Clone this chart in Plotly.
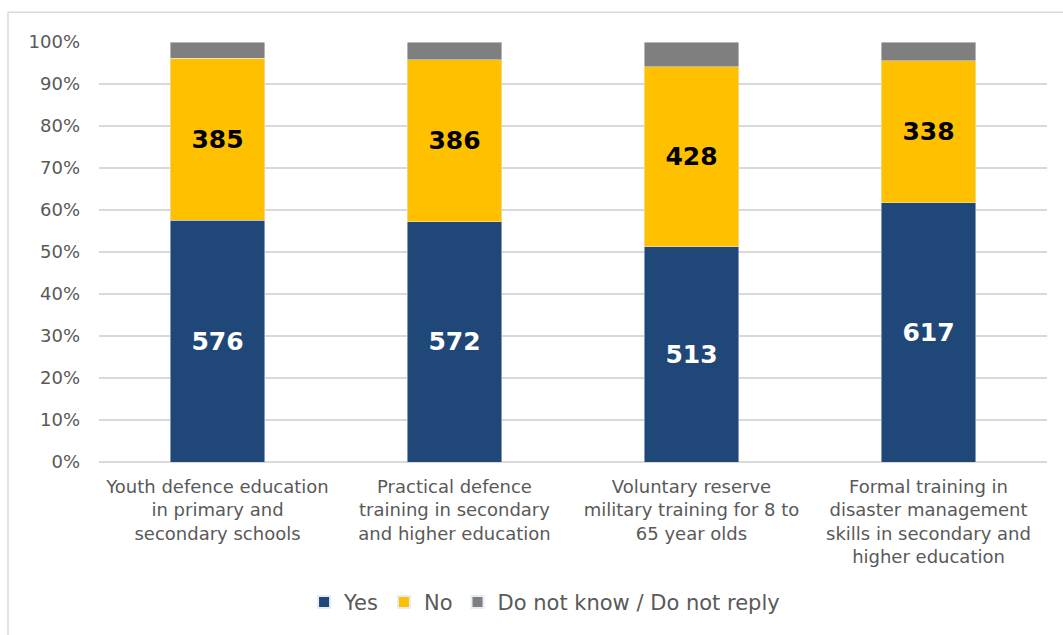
import plotly.graph_objects as go

# Survey responses per measure (counts out of 1000 respondents)
categories = [
    "Youth defence education<br>in primary and<br>secondary schools",
    "Practical defence<br>training in secondary<br>and higher education",
    "Voluntary reserve<br>military training for 8 to<br>65 year olds",
    "Formal training in<br>disaster management<br>skills in secondary and<br>higher education",
]
yes_counts = [576, 572, 513, 617]
no_counts = [385, 386, 428, 338]
dk_counts = [39, 42, 59, 45]

FONT = "DejaVu Sans, Verdana, sans-serif"
GREY_TXT = "#595959"
GRID = "#d9d9d9"

fig = go.Figure()
fig.add_trace(go.Bar(
    name="Yes", x=categories, y=yes_counts, marker_color="#1f4778",
    text=[str(v) for v in yes_counts], textposition="inside",
    insidetextanchor="middle",
    textfont=dict(family=FONT, size=25, color="white", weight="bold"),
))
fig.add_trace(go.Bar(
    name="No", x=categories, y=no_counts, marker_color="#ffc000",
    text=[str(v) for v in no_counts], textposition="inside",
    insidetextanchor="middle",
    textfont=dict(family=FONT, size=25, color="black", weight="bold"),
))
fig.add_trace(go.Bar(
    name="Do not know / Do not reply", x=categories, y=dk_counts,
    marker_color="#7f7f7f",
))

# Outer chart frame (top and left edges)
px_x = lambda p: (p - 99) / 948
px_y = lambda p: (464 - p) / 422
frame = dict(type="line", xref="paper", yref="paper",
             line=dict(color=GRID, width=1.5), layer="below")
fig.add_shape(x0=px_x(8), x1=px_x(1070), y0=px_y(12), y1=px_y(12), **frame)
fig.add_shape(x0=px_x(8), x1=px_x(8), y0=px_y(12), y1=px_y(640), **frame)

fig.update_layout(
    width=1063, height=635,
    margin=dict(l=99, r=16, t=42, b=171),
    barmode="stack", barnorm="percent", bargap=0.603,
    plot_bgcolor="white", paper_bgcolor="white",
    font=dict(family=FONT, size=18, color=GREY_TXT),
    uniformtext=dict(minsize=10, mode="show"),
    showlegend=True,
    legend=dict(orientation="h", x=0.47, xanchor="center",
                y=px_y(605), yanchor="middle",
                font=dict(family=FONT, size=21, color=GREY_TXT),
                itemsizing="constant", traceorder="normal",
                itemwidth=30),
    xaxis=dict(showgrid=False, showline=False, ticks="",
               ticklabelstandoff=12,
               tickfont=dict(family=FONT, size=18, color=GREY_TXT)),
    yaxis=dict(range=[0, 100], dtick=10, ticksuffix="%",
               showgrid=True, gridcolor=GRID, gridwidth=1.5,
               zeroline=True, zerolinecolor=GRID, zerolinewidth=1.5,
               ticklabelstandoff=18,
               tickfont=dict(family=FONT, size=18, color=GREY_TXT)),
)

fig.write_html("out.html")
